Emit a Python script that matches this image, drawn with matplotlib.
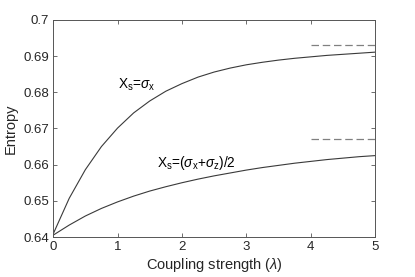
import matplotlib
matplotlib.use("Agg")
import matplotlib.pyplot as plt

plt.rcParams['font.family'] = ['Liberation Sans', 'DejaVu Sans']
plt.rcParams['mathtext.fontset'] = 'custom'
plt.rcParams['mathtext.rm'] = 'Liberation Sans'
plt.rcParams['mathtext.it'] = 'Liberation Sans:italic'
plt.rcParams['mathtext.sf'] = 'Liberation Sans'

# Data
lam = [0, 0.25, 0.5, 0.75, 1.0, 1.25, 1.5, 1.75, 2.0, 2.25, 2.5, 2.75,
       3.0, 3.25, 3.5, 3.75, 4.0, 4.25, 4.5, 4.75, 5.0]
entropy_x = [0.6408, 0.6507, 0.6586, 0.6650, 0.6701, 0.6743, 0.6776, 0.6803,
             0.6824, 0.6842, 0.6856, 0.6867, 0.6876, 0.6883, 0.6889, 0.6894,
             0.6898, 0.6902, 0.6905, 0.6908, 0.6911]
entropy_xz = [0.6405, 0.6433, 0.6458, 0.6479, 0.6497, 0.6513, 0.6527, 0.6539,
              0.6550, 0.6560, 0.6569, 0.6577, 0.6585, 0.6592, 0.6598, 0.6604,
              0.6609, 0.6614, 0.6618, 0.6622, 0.6625]
asym_x = 0.6931
asym_xz = 0.6670
asym_range = [4, 5]
label_x = r'X$_{\rm s}$=$\sigma_{\rm x}$'
label_xz = r'X$_{\rm s}$=($\sigma_{\rm x}$+$\sigma_{\rm z}$)/2'

fig = plt.figure(figsize=(4.15, 2.77), dpi=100)
ax = fig.add_axes([0.128, 0.1444, 0.776, 0.7836])

line_col = '#3a3a3a'
ax.plot(lam, entropy_x, color=line_col, lw=0.8)
ax.plot(lam, entropy_xz, color=line_col, lw=0.8)
ax.plot(asym_range, [asym_x, asym_x], color='#808080', lw=0.9, dashes=(6, 3))
ax.plot(asym_range, [asym_xz, asym_xz], color='#808080', lw=0.9, dashes=(6, 3))

ax.text(1.01, 0.6811, label_x, fontsize=9.8, color='black', va='baseline', ha='left')
ax.text(1.61, 0.6594, label_xz, fontsize=9.8, color='black', va='baseline', ha='left')

ax.set_xlim(0, 5)
ax.set_ylim(0.64, 0.7)
ax.set_xticks([0, 1, 2, 3, 4, 5])
ax.set_yticks([0.64, 0.65, 0.66, 0.67, 0.68, 0.69, 0.7])
ax.set_yticklabels(['0.64', '0.65', '0.66', '0.67', '0.68', '0.69', '0.7'])
ax.tick_params(direction='in', top=True, right=True, length=3, width=0.6,
               colors='#555555', labelcolor='#262626', labelsize=9.5, pad=3)
for s in ax.spines.values():
    s.set_color('#555555')
    s.set_linewidth(0.7)

ax.set_xlabel(r'Coupling strength ($\lambda$)', fontsize=10.5, color='#262626', labelpad=2)
ax.set_ylabel('Entropy', fontsize=10.5, color='#262626', labelpad=4)

fig.savefig('out.png', dpi=100)
